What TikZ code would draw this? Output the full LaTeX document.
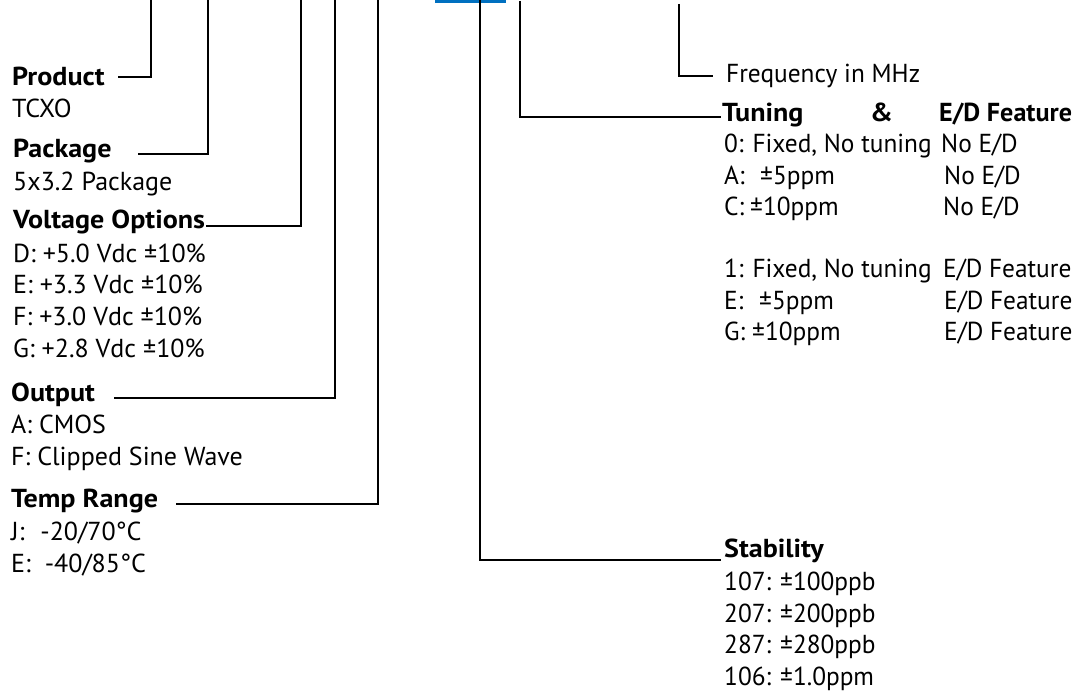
\documentclass[tikz,border=0pt]{standalone}
\usepackage{fontspec}
\setmainfont{PT Sans}[BoldFeatures={FakeStretch=1.08}]
\newfontfamily\rfont{PT Sans}[FakeStretch=0.975]
\definecolor{codeblue}{RGB}{0,112,192}
\begin{document}
\begin{tikzpicture}[x=1pt,y=-1pt,
  txt/.style={anchor=base west, inner sep=0pt, font=\fontsize{26}{30}\selectfont},
  rtxt/.style={anchor=base west, inner sep=0pt, font=\fontsize{26}{30}\selectfont\rfont},
  hd/.style={anchor=base west, inner sep=0pt, font=\fontsize{26}{30}\selectfont\bfseries},
  ln/.style={line width=2.6pt, line join=miter}]
\useasboundingbox (0,0) rectangle (1081,693);
% code box (top)
\fill[codeblue] (435,0) rectangle (506,3.5);
% top ends of connectors
\coordinate (tProd) at (151,0);
\coordinate (tPkg) at (208,0);
\coordinate (tVolt) at (301,0);
\coordinate (tOut) at (335,0);
\coordinate (tTemp) at (378,0);
\coordinate (tStab) at (480,0);
\coordinate (tTun) at (520,1);
\coordinate (tFreq) at (679,4);
% label ends of connectors
\coordinate (eProd) at (118,77);
\coordinate (ePkg) at (138,154);
\coordinate (eVolt) at (206,226);
\coordinate (eOut) at (114,398);
\coordinate (eTemp) at (176,504);
\coordinate (eStab) at (721,560);
\coordinate (eTun) at (721,117);
\coordinate (eFreq) at (713,76);
% left column
\node[hd]  (prod)  at (12,85)  {Product};
\node[txt] (tcxo)  at (12,117) {TCXO};
\node[hd]  (pkg)   at (13,157) {Package};
\node[txt] (pkgv)  at (13,190) {5x3.2 Package};
\node[hd]  (volt)  at (13,228) {Voltage Options};
\node[txt] (vD)    at (13,262) {D: +5.0 Vdc ±10\%};
\node[txt] (vE)    at (13,293) {E: +3.3 Vdc ±10\%};
\node[txt] (vF)    at (13,325) {F: +3.0 Vdc ±10\%};
\node[txt] (vG)    at (13,357) {G: +2.8 Vdc ±10\%};
\node[hd]  (out)   at (11,401) {Output};
\node[txt] (oA)    at (11,433) {A: CMOS};
\node[txt] (oF)    at (11,465) {F: Clipped Sine Wave};
\node[hd]  (temp)  at (11,507) {Temp Range};
\node[txt] (tJ)    at (11,540) {J:\hspace{16pt}-20/70°C};
\node[txt] (tE)    at (11,572) {E:\hspace{14pt}-40/85°C};
% right column
\node[rtxt] (freq)  at (726,82)  {Frequency in MHz};
\node[hd]   (tunA)  at (722,121) {Tuning};
\node[hd]   (tunB)  at (870,121) {\&};
\node[hd]   (tunC)  at (939,121) {\scalebox{0.93}[1]{E/D Feature}};
\node[rtxt] (r0a)   at (724,152) {0: Fixed, No tuning};
\node[rtxt] (r0b)   at (941,152) {No E/D};
\node[rtxt] (rAa)   at (724,184) {A:};
\node[rtxt] (rAb)   at (760,184) {±5ppm};
\node[rtxt] (rAc)   at (944,184) {No E/D};
\node[rtxt] (rCa)   at (724,215) {C:};
\node[rtxt] (rCb)   at (750,215) {±10ppm};
\node[rtxt] (rCc)   at (943,215) {No E/D};
\node[rtxt] (r1a)   at (724,277) {1: Fixed, No tuning};
\node[rtxt] (r1b)   at (943,277) {E/D Feature};
\node[rtxt] (rEa)   at (724,309) {E:};
\node[rtxt] (rEb)   at (759,309) {±5ppm};
\node[rtxt] (rEc)   at (944,309) {E/D Feature};
\node[rtxt] (rGa)   at (724,340) {G:};
\node[rtxt] (rGb)   at (752,340) {±10ppm};
\node[rtxt] (rGc)   at (944,340) {E/D Feature};
\node[hd]   (stab)  at (724,557) {Stability};
\node[rtxt] (s1)    at (724,590) {107: ±100ppb};
\node[rtxt] (s2)    at (724,622) {207: ±200ppb};
\node[rtxt] (s3)    at (724,653) {287: ±280ppb};
\node[rtxt] (s4)    at (724,685) {106: ±1.0ppm};
% connectors
\draw[ln] (tProd) |- (eProd);
\draw[ln] (tPkg) |- (ePkg);
\draw[ln] (tVolt) |- (eVolt);
\draw[ln] (tOut) |- (eOut);
\draw[ln] (tTemp) |- (eTemp);
\draw[ln] (tStab) |- (eStab);
\draw[ln] (tTun) |- (eTun);
\draw[ln] (tFreq) |- (eFreq);
\end{tikzpicture}
\end{document}
